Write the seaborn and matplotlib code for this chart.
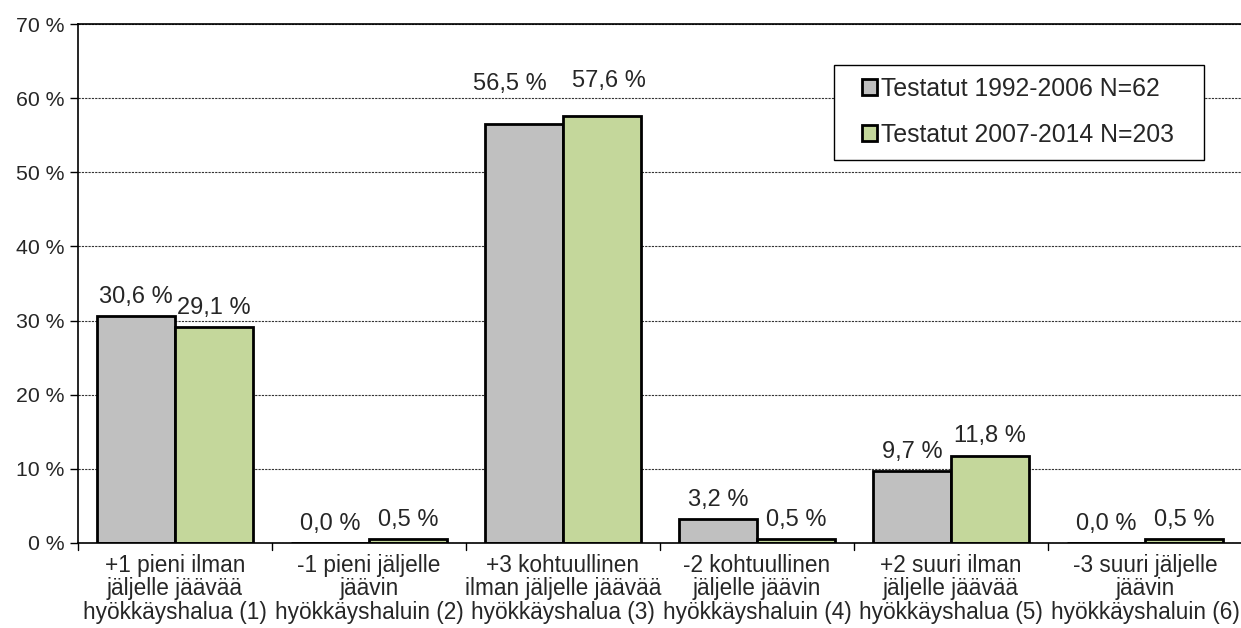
import numpy as np
import pandas as pd
import seaborn as sns
import matplotlib.pyplot as plt
from matplotlib.patches import Rectangle

categories = [
    "+1 pieni ilman\njäljelle jäävää\nhyökkäyshalua (1)",
    "-1 pieni jäljelle\njäävin\nhyökkäyshaluin (2)",
    "+3 kohtuullinen\nilman jäljelle jäävää\nhyökkäyshalua (3)",
    "-2 kohtuullinen\njäljelle jäävin\nhyökkäyshaluin (4)",
    "+2 suuri ilman\njäljelle jäävää\nhyökkäyshalua (5)",
    "-3 suuri jäljelle\njäävin\nhyökkäyshaluin (6)",
]
series_names = ["Testatut 1992-2006 N=62", "Testatut 2007-2014 N=203"]
values_1992 = [30.6, 0.0, 56.5, 3.2, 9.7, 0.0]
values_2007 = [29.1, 0.5, 57.6, 0.5, 11.8, 0.5]
colors = ["#C0C0C0", "#C4D79B"]

df = pd.DataFrame({
    "category": categories * 2,
    "series": [series_names[0]] * 6 + [series_names[1]] * 6,
    "value": values_1992 + values_2007,
})

sns.set_style("white")
plt.rcParams['font.family'] = ['Liberation Sans', 'DejaVu Sans']

fig = plt.figure(figsize=(12.41, 6.28), dpi=100)
ax = fig.add_axes([78 / 1241, 85 / 628, 1164 / 1241, 519 / 628])

sns.barplot(data=df, x="category", y="value", hue="series", palette=colors,
            saturation=1, width=0.8, edgecolor="black", linewidth=2, ax=ax,
            legend=True)

# labels of the tall pair were moved apart by hand in the original
nudges = [{2: (-10, 15)}, {2: (5, 11.5)}]
for k, cont in enumerate(ax.containers):
    labels = [f"{b.get_height():.1f} %".replace(".", ",") for b in cont]
    anns = ax.bar_label(cont, labels=labels, padding=6, fontsize=17)
    for i, (dx, dy) in nudges[k].items():
        x0, y0 = anns[i].xyann
        anns[i].xyann = (x0 + dx, y0 + dy)

ax.set_ylim(0, 70)
ax.set_xlim(-0.5, 5.5)
ax.set_yticks(np.arange(0, 71, 10))
ax.set_yticklabels([f"{v} %" for v in range(0, 71, 10)], fontsize=15.3)
ax.set_xticks(np.arange(6))
ax.set_xticklabels(categories, fontsize=16.3, linespacing=1.02)
ax.tick_params(axis="x", length=0, pad=8)
ax.tick_params(axis="y", length=6, width=1, color="black", direction="out", left=True)
# boundary ticks between categories
for xb in np.arange(-0.5, 6, 1):
    ax.plot([xb, xb], [0, -1.0], color="black", lw=1, clip_on=False)

ax.yaxis.grid(True, linestyle=(0, (2, 1)), color="#333333", lw=0.8)
ax.set_axisbelow(True)
for s in ["left", "bottom", "top"]:
    ax.spines[s].set_visible(True)
    ax.spines[s].set_color("black")
    ax.spines[s].set_linewidth(1.2)
ax.spines["right"].set_visible(False)
ax.set_xlabel("")
ax.set_ylabel("")

# legend frame drawn separately to get Excel-like padding
ax.add_patch(Rectangle((834 / 1241, 1 - 160 / 628), 370 / 1241, 95 / 628,
                       transform=fig.transFigure, facecolor="white",
                       edgecolor="black", lw=1, zorder=4, clip_on=False))
leg = ax.legend(loc="upper left", bbox_to_anchor=(862 / 1241, 1 - 77 / 628),
                bbox_transform=fig.transFigure, fontsize=17.8, frameon=False,
                handlelength=0.62, handleheight=0.62, handletextpad=0.15,
                labelspacing=0.88, borderpad=0, borderaxespad=0)
leg.set_zorder(5)
for h in leg.legend_handles:
    h.set_linewidth(2)
    h.set_edgecolor("black")

fig.savefig("out.png", dpi=100)
